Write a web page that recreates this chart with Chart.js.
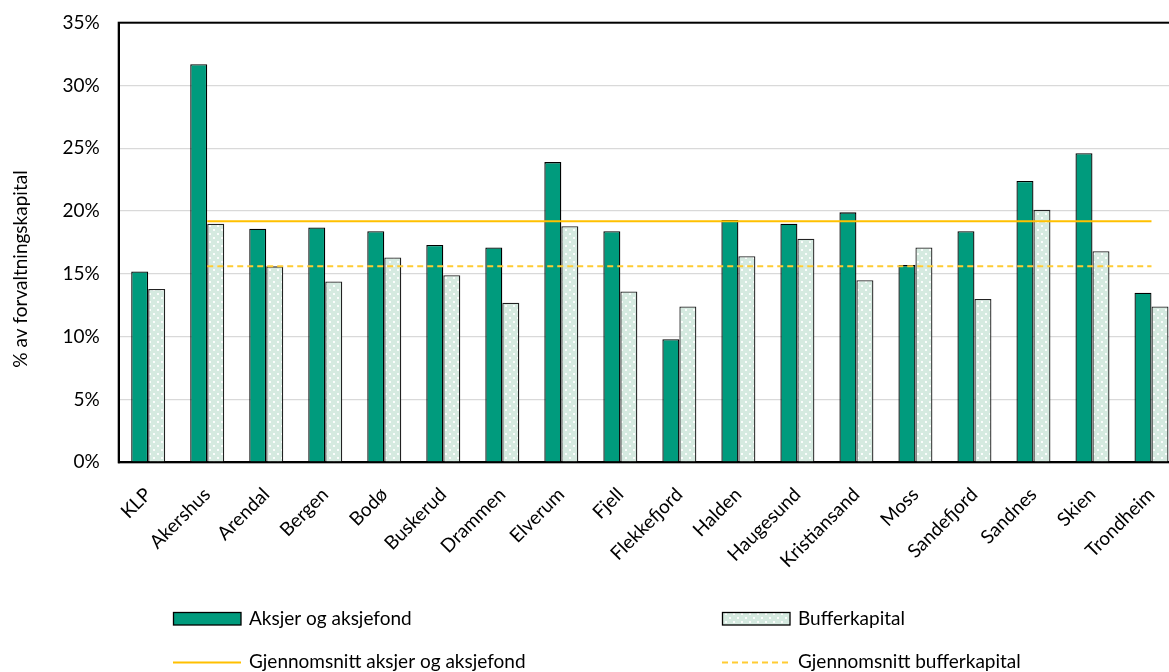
<!DOCTYPE html>
<html>
<head>
<meta charset="utf-8">
<script src="https://cdn.jsdelivr.net/npm/chart.js@4"></script>
<style>
  html, body { margin: 0; padding: 0; background: #fff; overflow: hidden; }
  #wrap { width: 1181px; height: 672px; }
</style>
</head>
<body>
<div id="wrap"><canvas id="chart" width="1181" height="672"></canvas></div>
<script>
// categories and values (percent of forvaltningskapital)
const categories = ['KLP', 'Akershus', 'Arendal', 'Bergen', 'Bodø', 'Buskerud', 'Drammen', 'Elverum', 'Fjell',
    'Flekkefjord', 'Halden', 'Haugesund', 'Kristiansand', 'Moss', 'Sandefjord', 'Sandnes', 'Skien', 'Trondheim']

const aksjer = [15.2, 31.7, 18.6, 18.7, 18.4, 17.3, 17.1, 23.9, 18.4, 9.8, 19.3, 19.0, 19.9, 15.7, 18.4, 22.4, 24.6, 13.5]
const buffer = [13.8, 19.0, 15.6, 14.4, 16.3, 14.9, 12.7, 18.8, 13.6, 12.4, 16.4, 17.8, 14.5, 17.1, 13.0, 20.1, 16.8, 12.4]

// average lines start at Akershus
const snittAksjer = [null, 19.2, 19.2, 19.2, 19.2, 19.2, 19.2, 19.2, 19.2, 19.2, 19.2, 19.2, 19.2, 19.2, 19.2, 19.2, 19.2, 19.2]
const snittBuffer = [null, 15.6, 15.6, 15.6, 15.6, 15.6, 15.6, 15.6, 15.6, 15.6, 15.6, 15.6, 15.6, 15.6, 15.6, 15.6, 15.6, 15.6]

const yTicks = [0, 5, 10, 15, 20, 25, 30, 35]

const FONT = 'Lato'
const FS = 19
const GREEN = '#009B7D'
const MINT = '#D5EAE0'
const GOLD = '#FFC000'
const GOLD_DASH = '#FFCC33'

//dotted fill for bufferkapital
function makePattern() {
    let c = document.createElement('canvas')
    c.width = 8
    c.height = 8
    let g = c.getContext('2d')
    g.fillStyle = MINT
    g.fillRect(0, 0, 8, 8)
    g.fillStyle = 'rgba(255,255,255,0.9)'
    g.fillRect(1, 1, 2, 2)
    g.fillRect(5, 5, 2, 2)
    return g.createPattern(c, 'repeat')
}
const dots = makePattern()

// box around the plot, y title and the legend at the bottom
const extras = {
    id: 'extras',
    afterDatasetsDraw(chart) {
        const ctx = chart.ctx
        const a = chart.chartArea
        ctx.save()
        ctx.strokeStyle = '#000'
        ctx.lineWidth = 2
        ctx.strokeRect(a.left, a.top, a.right - a.left, a.bottom - a.top)
        ctx.restore()
    },
    afterDraw(chart) {
        const ctx = chart.ctx
        ctx.save()
        ctx.fillStyle = '#000'
        ctx.font = `${FS}px ${FONT}`

        // y axis title
        ctx.save()
        ctx.translate(21, 269)
        ctx.rotate(-Math.PI / 2)
        ctx.textAlign = 'center'
        ctx.textBaseline = 'middle'
        ctx.fillText('% av forvaltningskapital', 0, 0)
        ctx.restore()

        ctx.textBaseline = 'middle'
        ctx.textAlign = 'left'

        // bar items
        ctx.lineWidth = 1.3
        ctx.strokeStyle = '#000'
        ctx.fillStyle = GREEN
        ctx.fillRect(173.5, 612.5, 67.5, 12.5)
        ctx.strokeRect(173.5, 612.5, 67.5, 12.5)
        ctx.fillStyle = dots
        ctx.fillRect(722.5, 612.5, 67.5, 12.5)
        ctx.strokeRect(722.5, 612.5, 67.5, 12.5)

        ctx.fillStyle = '#000'
        ctx.fillText('Aksjer og aksjefond', 249, 619)
        ctx.fillText('Bufferkapital', 798, 619)

        // line items
        ctx.lineWidth = 2
        ctx.strokeStyle = GOLD
        ctx.beginPath()
        ctx.moveTo(173, 662.5)
        ctx.lineTo(241, 662.5)
        ctx.stroke()
        ctx.strokeStyle = GOLD_DASH
        ctx.setLineDash([6, 4])
        ctx.beginPath()
        ctx.moveTo(722, 662.5)
        ctx.lineTo(790, 662.5)
        ctx.stroke()
        ctx.setLineDash([])

        ctx.fillText('Gjennomsnitt aksjer og aksjefond', 249, 662)
        ctx.fillText('Gjennomsnitt bufferkapital', 798, 662)
        ctx.restore()
    }
}

new Chart(document.getElementById('chart'), {
    type: 'bar',
    data: {
        labels: categories,
        datasets: [
            {
                label: 'Aksjer og aksjefond',
                data: aksjer,
                backgroundColor: GREEN,
                borderColor: '#000',
                borderWidth: 1.3,
                categoryPercentage: 0.576,
                barPercentage: 1.0,
                order: 2
            },
            {
                label: 'Bufferkapital',
                data: buffer,
                backgroundColor: dots,
                borderColor: '#222',
                borderWidth: 1.3,
                categoryPercentage: 0.576,
                barPercentage: 1.0,
                order: 2
            },
            {
                type: 'line',
                label: 'Gjennomsnitt aksjer og aksjefond',
                data: snittAksjer,
                borderColor: GOLD,
                borderWidth: 2,
                pointRadius: 0,
                fill: false,
                order: 1
            },
            {
                type: 'line',
                label: 'Gjennomsnitt bufferkapital',
                data: snittBuffer,
                borderColor: GOLD_DASH,
                borderWidth: 2,
                borderDash: [6, 4],
                pointRadius: 0,
                fill: false,
                order: 1
            }
        ]
    },
    options: {
        responsive: false,
        animation: false,
        layout: { padding: { top: 22.7, right: 0, bottom: 0, left: 0 } },
        plugins: {
            legend: { display: false },
            tooltip: { enabled: false }
        },
        scales: {
            x: {
                grid: { display: false },
                border: { display: true, color: '#000', width: 2 },
                ticks: {
                    color: '#000',
                    font: { family: FONT, size: FS },
                    maxRotation: 45,
                    minRotation: 45,
                    autoSkip: false,
                    padding: 13
                },
                afterFit(scale) {
                    scale.height = 672 - 462.3
                    scale.paddingLeft = 0
                    scale.paddingRight = 0
                }
            },
            y: {
                min: 0,
                max: 35,
                afterBuildTicks(scale) { scale.ticks = yTicks.map(v => ({ value: v })) },
                grid: { color: '#D9D9D9', lineWidth: 1.3, drawTicks: false },
                border: { display: true, color: '#000', width: 2 },
                ticks: {
                    color: '#000',
                    font: { family: FONT, size: FS },
                    padding: 19,
                    callback: v => v + '%'
                },
                afterFit(scale) {
                    scale.width = 118.7
                    scale.paddingTop = 0
                    scale.paddingBottom = 0
                }
            }
        }
    },
    plugins: [extras]
})
</script>
</body>
</html>
